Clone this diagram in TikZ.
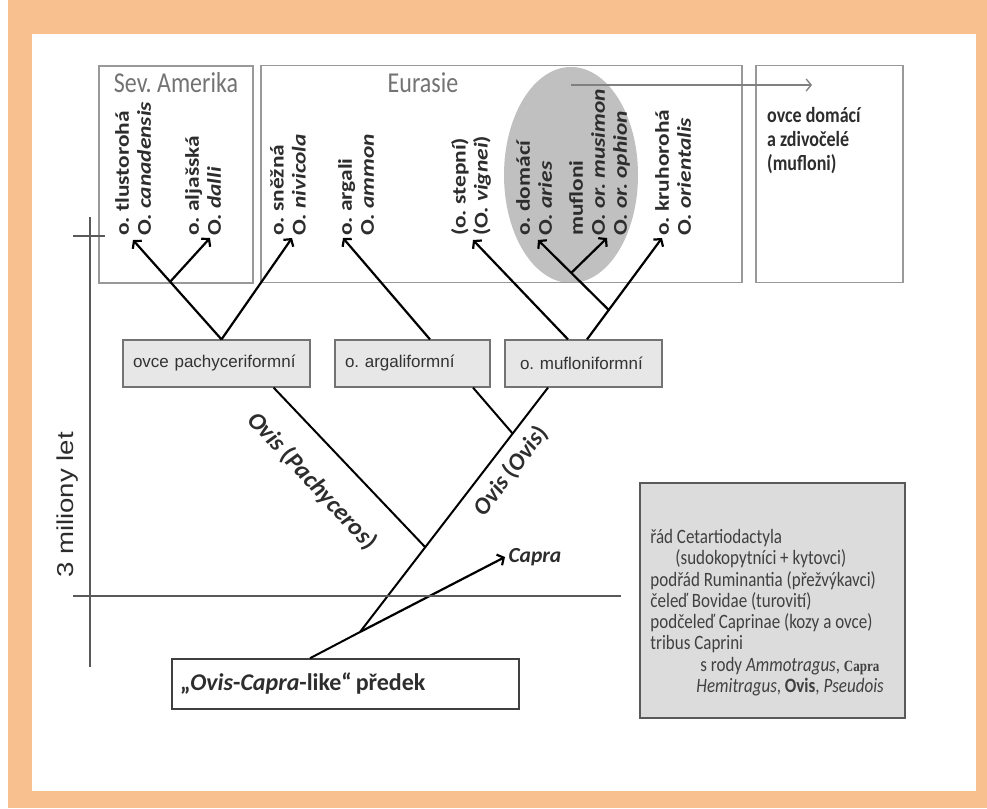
\documentclass[tikz,border=0pt]{standalone}
\usepackage{fontspec}
\setmainfont{Carlito}
\newfontfamily\arialfont{Liberation Sans}
\newfontfamily\serifbold{Liberation Serif}
\usetikzlibrary{arrows.meta,calc,positioning,shapes.geometric}
\definecolor{framecol}{RGB}{248,192,142}
\definecolor{cladefill}{RGB}{231,231,231}
\definecolor{taxfill}{RGB}{220,220,220}
\definecolor{ellfill}{RGB}{192,192,192}
\definecolor{txt}{RGB}{45,45,45}

\begin{document}
\frenchspacing
\begin{tikzpicture}[x=1pt,y=-1pt,>={Straight Barb[length=5pt,width=12pt]},
  stretch/.style={yscale=1.2},
  region/.style={draw=black!40,line width=1.2pt,minimum height=217pt,inner sep=0pt},
  clade/.style={draw=black!55,fill=cladefill,line width=1.2pt,minimum height=47pt,
    align=left,text=black!80,font=\arialfont\fontsize{17}{19}\selectfont},
  species/.style={stretch,rotate=90,anchor=north west,align=left,inner sep=0pt,
    text=txt,font=\bfseries\fontsize{19.5}{22}\selectfont},
  branch/.style={line width=2pt},
  tipline/.style={line width=2.2pt,->},
  ]
  % frame
  \fill[framecol] (0,0) rectangle (987,808);
  \fill[white] (0,0) rectangle (8,808);
  \fill[white] (32,34) rectangle (976,791);
  \useasboundingbox (0,0) rectangle (987,808);

  % regions
  \node[ellipse,fill=ellfill,minimum width=134pt,minimum height=216pt] (mufell) at (571,175) {};
  \node[region,minimum width=154pt] (namer) at (176,174.5) {};
  \node[region,minimum width=481pt] (eura) at (501.5,174) {};
  \node[region,minimum width=147pt] (dom) at (829.5,174) {};
  \node[stretch,text=black!55,font=\fontsize{24}{24}\selectfont] (namerlab) at (176,83) {Sev. Amerika};
  \node[stretch,text=black!55,font=\fontsize{24}{24}\selectfont] (euralab) at (423,83) {Eurasie};
  \node[stretch,anchor=north west,align=left,inner sep=0pt,text=txt,
    font=\bfseries\fontsize{18}{20}\selectfont] (domlab) at (767,107)
    {ovce domácí\\a zdivočelé\\(mufloni)};
  \coordinate (domtip) at (812,85);
  \draw[line width=1.3pt,black!50,->] (mufell.center |- domtip) -- (domtip);

  % species
  \foreach \nm/\xx/\txt in {can/115/{o. tlustorohá\\O. \textit{canadensis}},
      dal/185/{o. aljašská\\O. \textit{dalli}},
      niv/270/{o. sněžná\\O. \textit{nivicola}},
      amm/338/{o. argali\\O. \textit{ammon}},
      vig/451/{(o. stepní)\\(O. \textit{vignei})},
      ari/516/{o. domácí\\O. \textit{aries}},
      mus/569/{mufloni\\O. \textit{or. musimon}\\O. \textit{or. ophion}},
      ori/655/{o. kruhorohá\\O. \textit{orientalis}}}
    \node[species] (\nm) at (\xx,236) {\txt};

  % clades
  \node[clade,text width=167pt,inner xsep=10pt] (pachy) at (216.5,363.5) {ovce pachyceriformní};
  \node[clade,text width=135pt,inner xsep=10pt] (arg) at (412.5,363.5) {o. argaliformní};
  \node[clade,text width=127pt,inner xsep=15pt] (muf) at (583.5,363.5) {\mbox{o. mufloniformní}};

  % tips
  \coordinate (tCan) at (133,240);
  \coordinate (tDal) at (210,238);
  \coordinate (tNiv) at (292,238);
  \coordinate (tAmm) at (343,238);
  \coordinate (tVig) at (473,240);
  \coordinate (tAri) at (538,240);
  \coordinate (tMus) at (607,238);
  \coordinate (tOri) at (662,238);

  \coordinate (jPachy) at ([xshift=5pt]pachy.north);
  \draw[tipline] (jPachy) -- (tCan);
  \draw[tipline] ($(jPachy)!0.58!(tCan)$) -- (tDal);
  \draw[tipline] (jPachy) -- (tNiv);
  \draw[tipline] ([xshift=17.5pt]arg.north) -- (tAmm);
  \draw[tipline] ([xshift=-15.5pt]muf.north) -- (tVig);
  \coordinate (jKru) at ([xshift=3.5pt]muf.north);
  \draw[tipline] (jKru) -- (tOri);
  \coordinate (jAri) at ($(jKru)!0.29!(tOri)$);
  \draw[tipline] (jAri) -- (tAri);
  \draw[tipline] ($(jAri)!0.53!(tAri)$) -- (tMus);

  % lower tree
  \node[draw=black!75,line width=1.5pt,minimum width=347pt,minimum height=50pt,
    text width=331pt,inner xsep=8pt,align=left,text=txt,
    font=\bfseries\fontsize{24}{24}\selectfont] (anc) at (345.5,684)
    {„\textit{Ovis}-\textit{Capra}-like“\kern-4pt\ předek};
  \coordinate (jRoot) at (360,632);
  \coordinate (mufBot) at ([xshift=-35.5pt]muf.south);
  \draw[branch] (mufBot) -- (jRoot);
  \draw[branch] ([xshift=-37pt]pachy.south east) -- ($(mufBot)!0.653!(jRoot)$);
  \draw[branch] ([xshift=60.5pt]arg.south) -- ($(mufBot)!0.188!(jRoot)$);
  \draw[branch] ([xshift=-35.5pt]anc.north) -- (jRoot);
  \node[anchor=west,text=txt,font=\bfseries\itshape\fontsize{21.5}{21.5}\selectfont] (capra) at (505,557) {Capra};
  \draw[tipline] (jRoot) -- (capra.west);
  \node[rotate=-47,text=txt,font=\bfseries\fontsize{24.5}{24.5}\selectfont] (pachylab) at (312,481)
    {\textit{Ovis} (\textit{Pachyceros})};
  \node[rotate=52.5,text=txt,font=\bfseries\fontsize{24}{24}\selectfont] (ovislab) at (511,471)
    {\textit{Ovis} (\textit{Ovis})};

  % time scale
  \draw[line width=1.2pt,black!65] (90,217) -- (90,667);
  \draw[line width=1.2pt,black!65] (73,236) -- (105,236);
  \draw[line width=1.2pt,black!65] (73,596) -- (621,596);
  \node[stretch,rotate=90,text=txt,font=\arialfont\fontsize{23}{23}\selectfont] (scale) at (68,505) {3 miliony let};

  % taxonomy
  \node[draw=black!65,fill=taxfill,line width=1.5pt,minimum width=265pt,minimum height=235pt,
    inner sep=0pt] (tax) at (772.5,600.5) {};
  \node[stretch,anchor=north west,align=left,inner sep=0pt,text=black!75,
    font=\fontsize{17}{17.7}\selectfont] (taxtxt) at ($(tax.north west)+(11,47)$)
    {řád Cetartiodactyla\\
     \hspace*{25pt}(sudokopytníci + kytovci)\\
     podřád Ruminantia (přežvýkavci)\\
     čeleď Bovidae (turovití)\\
     podčeleď Caprinae (kozy a ovce)\\
     tribus Caprini\\
     \hspace*{50pt}s rody \textit{Ammotragus}, {\serifbold\bfseries\fontsize{13}{13}\selectfont Capra}\\
     \hspace*{46pt}\textit{Hemitragus}, \textbf{Ovis}, \textit{Pseudois}};
\end{tikzpicture}
\end{document}
